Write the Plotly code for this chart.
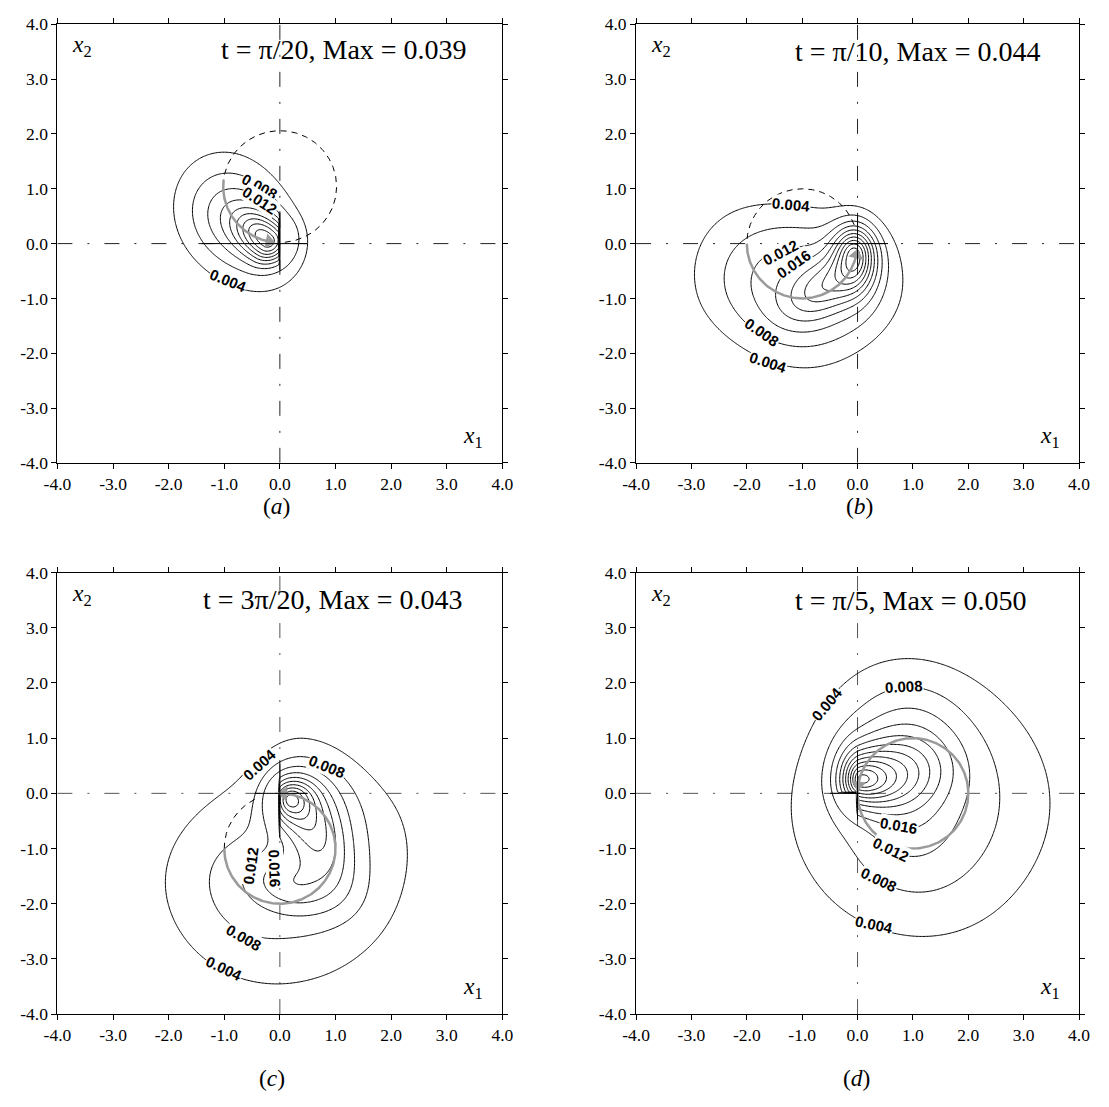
import numpy as np
import plotly.graph_objects as go

# ---------------- panel meta ----------------
tags = ["a", "b", "c", "d"]
times = ["π/20", "π/10", "3π/20", "π/5"]
max_values = [0.039, 0.044, 0.043, 0.050]
level_step = 0.004
tick_values = [-4, -3, -2, -1, 0, 1, 2, 3, 4]
tick_labels = ["-4.0", "-3.0", "-2.0", "-1.0", "0.0", "1.0", "2.0", "3.0", "4.0"]

# density lobes: (cx, cy, angle deg, s_u+, s_u-, s_v+, s_v-, shape power, amplitude)
lobes_a = [(-0.19, 0.04, 140, 0.45, 0.25, 0.27, 0.27, 2.0, 0.028),
           (-0.72, 0.45, 135, 0.78, 0.78, 0.66, 0.66, 2.0, 0.016)]
lobes_b = [(-0.05, -0.17, 90, 0.33, 0.42, 0.24, 0.24, 1.75, 0.030),
           (-0.55, -0.75, 35, 0.55, 0.55, 0.32, 0.32, 2.0, 0.012),
           (-1.05, -0.80, 0, 1.20, 1.25, 1.00, 0.95, 2.3, 0.013)]
lobes_c = [(0.17, -0.10, 0, 0.25, 0.20, 0.22, 0.25, 1.6, 0.022),
           (0.45, -0.20, 0, 0.60, 0.45, 0.60, 0.60, 2.0, 0.009),
           (0.70, -0.85, -65, 0.60, 0.60, 0.34, 0.34, 2.0, 0.010),
           (0.20, -1.65, -15, 0.60, 0.60, 0.38, 0.38, 2.0, 0.009),
           (0.15, -1.45, 0, 1.40, 1.35, 1.25, 1.25, 2.0, 0.012)]
lobes_d = [(0.04, 0.25, 0, 0.35, 0.20, 0.30, 0.26, 1.5, 0.030),
           (0.75, 0.35, 10, 0.60, 0.60, 0.45, 0.45, 2.0, 0.010),
           (1.11, -0.20, 0, 1.58, 1.58, 1.58, 1.58, 2.0, 0.0105),
           (0.90, 0.90, 0, 0.70, 0.70, 0.80, 0.80, 2.0, 0.006),
           (0.90, -0.60, 0, 0.55, 0.55, 0.55, 0.55, 2.0, 0.0028)]

# points read on the labelled contours: (x1, x2, level)
pts_a = [(-0.91, 1.65, 0.004), (-1.87, 0.56, 0.004), (-0.47, -0.83, 0.004),
         (0.47, 0.21, 0.004), (-0.93, -0.68, 0.004),
         (-1.56, 0.56, 0.008), (-0.68, 1.29, 0.008), (-0.39, -0.63, 0.008),
         (0.31, -0.13, 0.008), (-0.36, 1.05, 0.008),
         (-0.36, 0.79, 0.012), (-1.32, 0.45, 0.012)]
pts_b = [(-2.96, -0.49, 0.004), (-2.69, 0.26, 0.004), (-2.28, 0.61, 0.004),
         (-1.21, 0.71, 0.004), (0.00, 0.66, 0.004), (0.81, -0.49, 0.004),
         (0.00, -1.95, 0.004), (-1.17, -2.25, 0.004), (-1.61, -2.17, 0.004),
         (-2.40, -0.60, 0.008), (-1.99, 0.17, 0.008), (-1.64, 0.26, 0.008),
         (-0.46, 0.43, 0.008), (0.57, -0.49, 0.008), (-0.81, -1.88, 0.008),
         (-1.72, -1.62, 0.008),
         (-1.39, -0.17, 0.012), (-1.94, -0.67, 0.012), (-0.87, -1.65, 0.012),
         (-1.14, -0.37, 0.016), (-1.53, -0.67, 0.016)]
pts_c = [(0.20, 0.92, 0.004), (-0.37, 0.53, 0.004), (-0.68, 0.36, 0.004),
         (-1.50, -0.48, 0.004), (-2.03, -1.51, 0.004), (-1.73, -2.54, 0.004),
         (-0.68, -3.32, 0.004), (0.00, -3.43, 0.004), (1.08, -3.14, 0.004),
         (1.95, -2.24, 0.004), (2.25, -1.27, 0.004), (1.95, 0.00, 0.004),
         (1.08, 0.73, 0.004), (-1.00, -3.17, 0.004),
         (0.85, 0.48, 0.008), (0.32, 0.73, 0.008), (-0.65, -2.61, 0.008),
         (-1.26, -1.50, 0.008),
         (-0.53, -1.30, 0.012), (-0.68, -1.50, 0.012),
         (-0.09, -1.36, 0.016), (-0.04, -1.50, 0.016)]
pts_d = [(-1.24, -0.24, 0.004), (1.09, 2.39, 0.004), (3.46, -0.06, 0.004),
         (1.18, -2.55, 0.004), (-0.56, 1.61, 0.004), (0.30, -2.38, 0.004),
         (-0.59, -0.06, 0.008), (0.84, 1.93, 0.008), (2.54, 0.00, 0.008),
         (1.18, -1.82, 0.008), (0.38, -1.56, 0.008),
         (0.60, -0.98, 0.012), (0.74, -0.58, 0.016)]

# windows where the density is capped: (x0, x1, y0, y1, cap)
cuts_a = [(0.0, 4.0, -0.48, 0.59, 0.0105)]
cuts_b = []
cuts_c = [(-4.0, -0.001, -0.80, 0.45, 0.0135)]
cuts_d = [(-4.0, -0.001, -0.65, 0.0, 0.0135)]

# classical orbit: centre, radius, grey (travelled) arc and dashed arc in degrees
orbit_center = [(0.0, 1.04), (-1.0, 0.0), (0.0, -1.0), (1.0, 0.0)]
orbit_radius = [1.02, 1.0, 1.0, 1.0]
arc_travelled = [(173, 259), (180, 348), (180, 446), (171, 531)]
arc_dashed = [(275, 533), (20, 180), (117, 180), None]

# solid pieces of the axis cross-hairs
seg_h = [(-1.41, 0.49), (-0.49, 0.55), (-0.45, 0.50), (-0.50, 0.05)]
seg_v = [(-0.48, 0.59), (-0.38, 0.49), (-0.80, 0.60), (-0.48, 0.78)]

# contour labels: (text, x, y, angle)
labels_a = [("0.008", -0.36, 1.05, 28), ("0.012", -0.36, 0.79, 33),
            ("0.004", -0.93, -0.68, 22)]
labels_b = [("0.004", -1.21, 0.71, 5), ("0.012", -1.39, -0.17, -28),
            ("0.016", -1.14, -0.37, -35), ("0.008", -1.72, -1.62, 35),
            ("0.004", -1.61, -2.17, 18)]
labels_c = [("0.004", -0.37, 0.53, -42), ("0.008", 0.85, 0.48, 22),
            ("0.012", -0.53, -1.30, -82), ("0.016", -0.09, -1.36, 88),
            ("0.008", -0.65, -2.61, 30), ("0.004", -1.00, -3.17, 25)]
labels_d = [("0.004", -0.56, 1.61, -50), ("0.008", 0.84, 1.93, -3),
            ("0.016", 0.74, -0.58, 10), ("0.012", 0.60, -1.02, 25),
            ("0.008", 0.38, -1.56, 25), ("0.004", 0.30, -2.38, 12)]

title_pos = [(1.15, 3.54), (1.10, 3.50), (0.96, 3.51), (0.96, 3.50)]
caption_pos = [(0.2417, 0.5438), (0.7800, 0.5438), (0.2381, 0.0172), (0.7773, 0.0172)]

# panel placement (paper fractions)
x_dom = [[0.04004, 0.45050], [0.57385, 0.98251], [0.04004, 0.45050], [0.57385, 0.98251]]
y_dom = [[0.5834, 0.9868], [0.5834, 0.9868], [0.0763, 0.4824], [0.0763, 0.4824]]
axis_colors = ["#222222", "#222222", "#555555", "#555555"]

SERIF = "Liberation Serif"
SANS = "Liberation Sans"

grid = np.linspace(-4.0, 4.0, 321)
GX, GY = np.meshgrid(grid, grid)
RBF_LEN = 0.85
RBF_RIDGE = 0.3


def lobe(X, Y, cx, cy, ang, su_p, su_m, sv_p, sv_m, power, amp):
    t = np.deg2rad(ang)
    dx, dy = X - cx, Y - cy
    u = dx * np.cos(t) + dy * np.sin(t)
    v = -dx * np.sin(t) + dy * np.cos(t)
    su = np.where(u >= 0, su_p, su_m)
    sv = np.where(v >= 0, sv_p, sv_m)
    rho = np.sqrt((u / su) ** 2 + (v / sv) ** 2)
    return amp * np.exp(-0.5 * rho ** power)


def base_field(X, Y, lobes):
    return sum(lobe(X, Y, *p) for p in lobes)


def density(lobes, pts, cuts, zmax):
    scale = zmax / base_field(GX, GY, lobes).max()
    z = scale * base_field(GX, GY, lobes)
    # gentle correction so the contours pass near the read points
    P = np.array(pts, dtype=float)
    px, py, lev = P[:, 0], P[:, 1], P[:, 2]
    res = lev - scale * base_field(px, py, lobes)
    d2 = (px[:, None] - px[None, :]) ** 2 + (py[:, None] - py[None, :]) ** 2
    K = np.exp(-d2 / (2 * RBF_LEN ** 2))
    w = np.linalg.solve(K + RBF_RIDGE * np.eye(len(px)), res)
    for k in range(len(px)):
        z = z + w[k] * np.exp(-((GX - px[k]) ** 2 + (GY - py[k]) ** 2) / (2 * RBF_LEN ** 2))
    z = np.clip(z, 0, None)
    z = z * (zmax / z.max())
    for x0, x1, y0, y1, cap in cuts:
        m = (GX >= x0) & (GX <= x1) & (GY >= y0) & (GY <= y1)
        z = np.where(m, np.minimum(z, cap), z)
    return np.round(z, 6)


def arc(center, r, a0, a1):
    t = np.deg2rad(np.linspace(a0, a1, 240))
    return center[0] + r * np.cos(t), center[1] + r * np.sin(t)


all_lobes = [lobes_a, lobes_b, lobes_c, lobes_d]
all_pts = [pts_a, pts_b, pts_c, pts_d]
all_cuts = [cuts_a, cuts_b, cuts_c, cuts_d]
all_labels = [labels_a, labels_b, labels_c, labels_d]

fig = go.Figure()
layout = dict(width=1109, height=1107, margin=dict(l=0, r=0, t=0, b=0),
              paper_bgcolor="white", plot_bgcolor="white", showlegend=False)
shapes, annotations = [], []
DASHDOT = "15px,15px,2px,15px"

for i in range(4):
    n = "" if i == 0 else str(i + 1)
    xa, ya = "x" + n, "y" + n
    zmax = max_values[i]
    z = density(all_lobes[i], all_pts[i], all_cuts[i], zmax)

    fig.add_trace(go.Contour(
        x=grid, y=grid, z=z, xaxis=xa, yaxis=ya,
        autocontour=False,
        contours=dict(start=level_step, end=zmax, size=level_step,
                      coloring="lines", showlabels=False),
        line=dict(width=1, smoothing=0.9),
        colorscale=[[0, "black"], [1, "black"]], showscale=False,
        hoverinfo="skip"))

    # orbit of the packet centre
    c, r = orbit_center[i], orbit_radius[i]
    if arc_dashed[i] is not None:
        dxs, dys = arc(c, r, *arc_dashed[i])
        fig.add_trace(go.Scatter(x=dxs, y=dys, xaxis=xa, yaxis=ya, mode="lines",
                                 line=dict(color="black", width=1, dash="6px,5px"),
                                 hoverinfo="skip"))
    sxs, sys_ = arc(c, r, *arc_travelled[i])
    fig.add_trace(go.Scatter(x=sxs, y=sys_, xaxis=xa, yaxis=ya, mode="lines",
                             line=dict(color="#9a9a9a", width=2.5),
                             hoverinfo="skip"))
    end = arc_travelled[i][1]
    fig.add_trace(go.Scatter(x=[sxs[-1]], y=[sys_[-1]], xaxis=xa, yaxis=ya,
                             mode="markers",
                             marker=dict(symbol="triangle-up", size=13,
                                         color="#9a9a9a", angle=-end),
                             hoverinfo="skip"))

    col = axis_colors[i]
    shapes.append(dict(type="line", xref=xa, yref=ya, x0=-4, x1=4, y0=0, y1=0,
                       line=dict(color=col, width=1, dash=DASHDOT), layer="below"))
    shapes.append(dict(type="line", xref=xa, yref=ya, x0=0, x1=0, y0=-4, y1=4,
                       line=dict(color=col, width=1, dash=DASHDOT), layer="below"))
    shapes.append(dict(type="line", xref=xa, yref=ya, x0=seg_h[i][0], x1=seg_h[i][1],
                       y0=0, y1=0, line=dict(color="black", width=1)))
    shapes.append(dict(type="line", xref=xa, yref=ya, x0=0, x1=0,
                       y0=seg_v[i][0], y1=seg_v[i][1], line=dict(color="black", width=1)))

    for txt, lx, ly, ang in all_labels[i]:
        annotations.append(dict(x=lx, y=ly, xref=xa, yref=ya, text="<b>%s</b>" % txt,
                                textangle=ang, showarrow=False, bgcolor="white",
                                borderpad=0, xanchor="center", yanchor="middle",
                                font=dict(family=SANS, size=15, color="black")))

    tx, ty = title_pos[i]
    annotations.append(dict(x=tx, y=ty, xref=xa, yref=ya, showarrow=False,
                            xanchor="center", yanchor="middle",
                            text="t = %s, Max = %.3f" % (times[i], zmax),
                            font=dict(family=SERIF, size=28, color="black")))
    annotations.append(dict(x=-3.55, y=3.6, xref=xa, yref=ya, showarrow=False,
                            xanchor="center", yanchor="middle",
                            text="<i>x</i><sub>2</sub>",
                            font=dict(family=SERIF, size=23.5, color="black")))
    annotations.append(dict(x=3.47, y=-3.52, xref=xa, yref=ya, showarrow=False,
                            xanchor="center", yanchor="middle",
                            text="<i>x</i><sub>1</sub>",
                            font=dict(family=SERIF, size=23.5, color="black")))
    cx_, cy_ = caption_pos[i]
    annotations.append(dict(x=cx_, y=cy_, xref="paper", yref="paper", showarrow=False,
                            xanchor="center", yanchor="middle",
                            text="(<i>%s</i>)" % tags[i],
                            font=dict(family=SERIF, size=23.5, color="black")))

    axis_common = dict(range=[-4, 4], showline=True, linecolor="black", linewidth=1,
                       mirror="ticks", ticks="outside", ticklen=5, tickwidth=1,
                       tickcolor="black", tickvals=tick_values, ticktext=tick_labels,
                       tickfont=dict(family=SERIF, size=17.5, color="black"),
                       showgrid=False, zeroline=False, fixedrange=True)
    layout["xaxis" + n] = dict(axis_common, domain=x_dom[i], anchor=ya)
    layout["yaxis" + n] = dict(axis_common, domain=y_dom[i], anchor=xa)

layout["shapes"] = shapes
layout["annotations"] = annotations
fig.update_layout(**layout)
fig.write_html("out.html")
